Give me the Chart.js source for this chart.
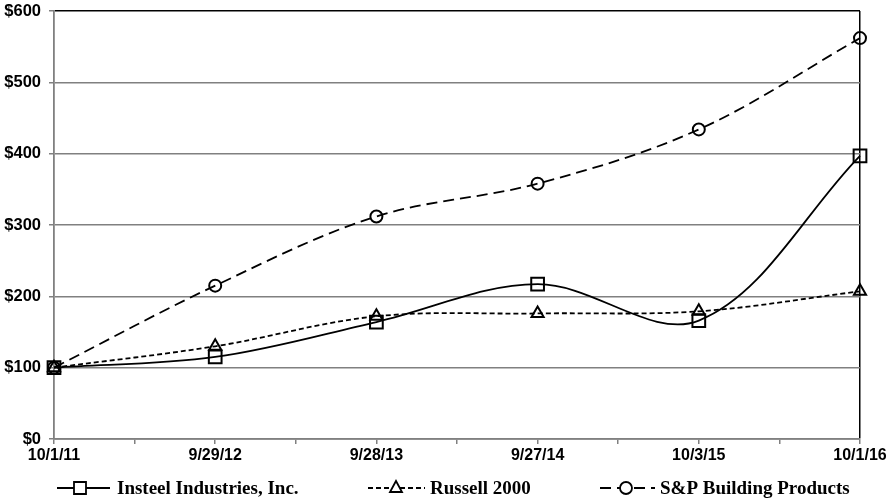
<!DOCTYPE html>
<html>
<head>
<meta charset="utf-8">
<script src="https://cdn.jsdelivr.net/npm/chart.js@4"></script>
<style>
  html, body { margin: 0; padding: 0; background: #fff; }
  #wrap { width: 891px; height: 501px; position: relative; }
</style>
</head>
<body>
<div id="wrap"><canvas id="perfChart"></canvas></div>
<script>
// Data
const dates = ['10/1/11', '9/29/12', '9/28/13', '9/27/14', '10/3/15', '10/1/16'];
const insteel = [100, 115, 164, 217, 166, 397];
const russell = [100, 130, 172, 176, 179, 207];
const spBuilding = [100, 215, 312, 358, 434, 562];
const yTicks = [0, 100, 200, 300, 400, 500, 600];

const toPoints = arr => arr.map((v, i) => ({ x: i, y: v }));

// Legend at the bottom: line sample + marker + serif label
const legendPlugin = {
    id: 'bottomLegend',
    afterDraw(chart) {
        const ctx = chart.ctx;
        const y = 488;
        const items = [
            { x0: 57, x1: 110, mx: 80, dash: [], style: 'rect', tx: 117, text: 'Insteel Industries, Inc.' },
            { x0: 368, x1: 425, mx: 396, dash: [5, 3], style: 'triangle', tx: 430, text: 'Russell 2000' },
            { x0: 600, x1: 655, mx: 626, dash: [11, 6], style: 'circle', tx: 660, text: 'S&P Building Products' }
        ];
        ctx.save();
        items.forEach(it => {
            ctx.strokeStyle = '#000';
            ctx.lineWidth = 1.8;
            ctx.setLineDash(it.dash);
            ctx.beginPath();
            ctx.moveTo(it.x0, y);
            ctx.lineTo(it.x1, y);
            ctx.stroke();
            ctx.setLineDash([]);
            ctx.fillStyle = '#fff';
            ctx.beginPath();
            if (it.style === 'rect') {
                ctx.rect(it.mx - 6, y - 6, 12, 12);
            } else if (it.style === 'triangle') {
                ctx.moveTo(it.mx, y - 7);
                ctx.lineTo(it.mx + 6, y + 4);
                ctx.lineTo(it.mx - 6, y + 4);
                ctx.closePath();
            } else {
                ctx.arc(it.mx, y, 6, 0, Math.PI * 2);
            }
            ctx.fill();
            ctx.stroke();
            ctx.fillStyle = '#000';
            ctx.font = 'bold 19px "Liberation Serif", "Times New Roman", serif';
            ctx.textBaseline = 'middle';
            ctx.textAlign = 'left';
            ctx.fillText(it.text, it.tx, y + 1);
        });
        ctx.restore();
    }
};

const baseDataset = {
    borderColor: '#000',
    borderWidth: 1.8,
    pointBorderWidth: 2,
    pointBackgroundColor: 'rgba(255,255,255,0)',
    pointBorderColor: '#000',
    tension: 0.35,
    fill: false,
    clip: false
};

const ctx = document.getElementById('perfChart').getContext('2d');
const perfChart = new Chart(ctx, {
    type: 'line',
    data: {
        datasets: [{
            ...baseDataset,
            label: 'Insteel Industries, Inc.',
            data: toPoints(insteel),
            pointStyle: 'rect',
            pointRadius: 9
        }, {
            ...baseDataset,
            label: 'Russell 2000',
            data: toPoints(russell),
            borderDash: [5, 3],
            pointStyle: 'triangle',
            pointRadius: 7
        }, {
            ...baseDataset,
            label: 'S&P Building Products',
            data: toPoints(spBuilding),
            borderDash: [11, 6],
            pointStyle: 'circle',
            pointRadius: 6
        }]
    },
    options: {
        responsive: true,
        maintainAspectRatio: false,
        animation: false,
        layout: { padding: { left: 0, right: 31, top: 0, bottom: 32 } },
        plugins: {
            legend: { display: false },
            tooltip: { enabled: false }
        },
        scales: {
            x: {
                type: 'linear',
                min: 0,
                max: dates.length - 1,
                afterBuildTicks: scale => {
                    const t = [];
                    for (let v = 0; v <= dates.length - 1; v += 0.5) t.push({ value: v });
                    scale.ticks = t;
                },
                afterFit: scale => { scale.height = 30; },
                ticks: {
                    autoSkip: false,
                    maxRotation: 0,
                    padding: 2,
                    color: '#000',
                    font: { family: '"Liberation Sans", Arial, sans-serif', size: 16, weight: 'bold' },
                    callback: v => Number.isInteger(v) ? dates[v] : ''
                },
                grid: {
                    color: c => (c.tick && c.tick.value === dates.length - 1) ? '#000' : 'rgba(0,0,0,0)',
                    tickColor: '#808080',
                    tickLength: 5,
                    lineWidth: 1.5
                },
                border: { color: '#808080', width: 1.8 }
            },
            y: {
                min: 0,
                max: 600,
                afterBuildTicks: scale => { scale.ticks = yTicks.map(v => ({ value: v })); },
                afterFit: scale => { scale.width = 54; scale.paddingTop = 10; },
                ticks: {
                    padding: 8,
                    color: '#000',
                    font: { family: '"Liberation Sans", Arial, sans-serif', size: 16.5, weight: 'bold' },
                    callback: v => '$' + v
                },
                grid: {
                    color: c => (c.tick && c.tick.value === 600) ? '#000' : '#808080',
                    tickColor: '#808080',
                    tickLength: 5,
                    lineWidth: 1.5
                },
                border: { color: '#808080', width: 1.8 }
            }
        }
    },
    plugins: [legendPlugin]
});
</script>
</body>
</html>
